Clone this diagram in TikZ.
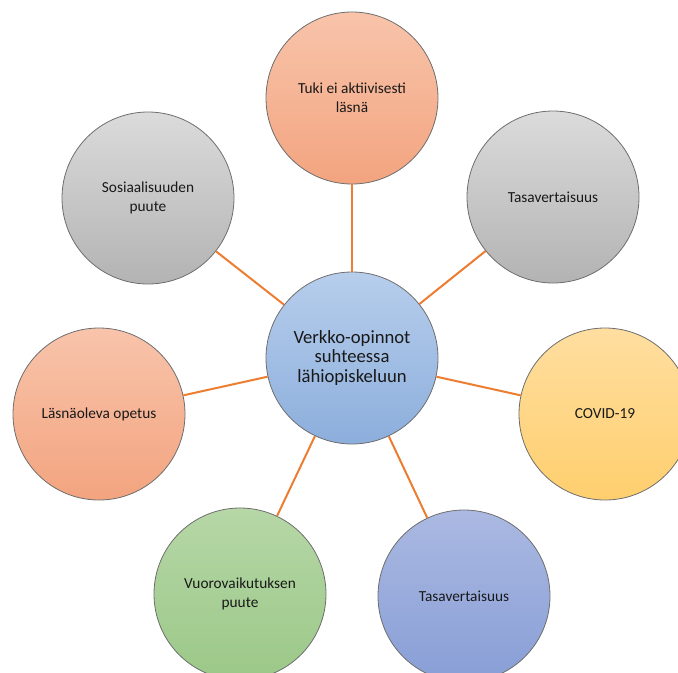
\documentclass[tikz,border=0pt]{standalone}
\usepackage{fontspec}
\setmainfont{Carlito}
\definecolor{linkor}{HTML}{ED7D31}
\definecolor{edgec}{HTML}{6E6E6E}
\definecolor{salT}{HTML}{F8C4AB}
\definecolor{salB}{HTML}{F3A47F}
\definecolor{gryT}{HTML}{DBDBDB}
\definecolor{gryB}{HTML}{B3B3B3}
\definecolor{bluT}{HTML}{B7CEEC}
\definecolor{bluB}{HTML}{8CAEDC}
\definecolor{yelT}{HTML}{FFDEA0}
\definecolor{yelB}{HTML}{FFCF6E}
\definecolor{grnT}{HTML}{B6D7A6}
\definecolor{grnB}{HTML}{9BC888}
\definecolor{pblT}{HTML}{ABB9E2}
\definecolor{pblB}{HTML}{889ED6}
\tikzset{
  bubble/.style={circle, draw=edgec, line width=0.6pt, minimum size=129pt, inner sep=0pt,
    align=center, font=\fontsize{11.5}{14.2}\selectfont, text=black!90},
  hub/.style={bubble, font=\fontsize{14}{14.6}\selectfont},
  link/.style={draw=linkor, line width=1.5pt}
}
\begin{document}
\begin{tikzpicture}[x=0.75pt,y=-0.75pt]
\useasboundingbox (0,0) rectangle (678,672);
\clip (0,0) rectangle (678,672);
\node[hub, top color=bluT, bottom color=bluB] (hub) at (352,358) {Verkko-opinnot\\suhteessa\\lähiopiskeluun};
\node[bubble, top color=salT, bottom color=salB] (n1) at (352,98) {Tuki ei aktiivisesti\\läsnä};
\node[bubble, top color=gryT, bottom color=gryB] (n2) at (553,197) {Tasavertaisuus};
\node[bubble, top color=yelT, bottom color=yelB] (n3) at (605,414) {COVID-19};
\node[bubble, top color=pblT, bottom color=pblB] (n4) at (464,596) {Tasavertaisuus};
\node[bubble, top color=grnT, bottom color=grnB] (n5) at (240,594) {Vuorovaikutuksen\\puute};
\node[bubble, top color=salT, bottom color=salB] (n6) at (99,414) {Läsnäoleva opetus};
\node[bubble, top color=gryT, bottom color=gryB] (n7) at (148,198) {Sosiaalisuuden\\puute};
\foreach \n in {n1,n2,n3,n4,n5,n6,n7} \draw[link] (hub) -- (\n);
\end{tikzpicture}
\end{document}
